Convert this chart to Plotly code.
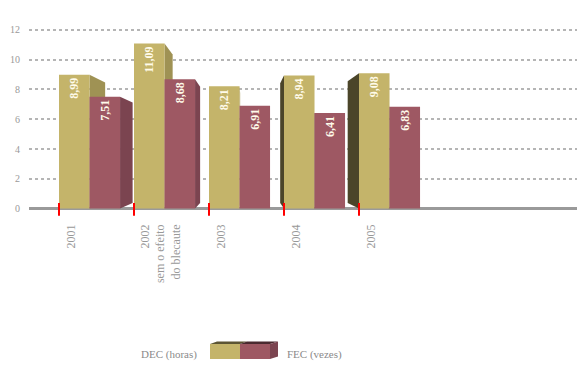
import plotly.graph_objects as go

# ---- data ----
categories = ["2001", "2002<br>sem o efeito<br>do blecaute", "2003", "2004", "2005"]
dec_values = [8.99, 11.09, 8.21, 8.94, 9.08]
fec_values = [7.51, 8.68, 6.91, 6.41, 6.83]
y_tick_values = [0, 2, 4, 6, 8, 10, 12]
legend_names = ["DEC (horas)", "FEC (vezes)"]

# ---- geometry / style ----
OFF = 8                      # default page body margin
W, H = 585 - OFF, 376 - OFF
ML, MT = 29 - OFF, 15 - OFF
PW, PHT = 556, 201           # plot area size in px
MR = W - ML - PW
MB = H - MT - PHT
PX_PER_CAT = 75.0
XR = [-0.4, -0.4 + PW / PX_PER_CAT]
YR = [-0.5, 13]
BW = 0.407          # bar width in category units
VPX, VPY, F = 2.49, 3.7, 0.10   # perspective vanishing point and depth fraction
label_offsets = [0.16, 0.35, 0.16, 0.16, 0.16]

DEC_FRONT, DEC_RIGHT, DEC_LEFT = "#C4B46A", "#9F9254", "#4B4529"
FEC_FRONT, FEC_RIGHT, FEC_LEFT = "#9E5863", "#7B4450", "#4A2A30"
GRAY = "#999999"
SERIF = "Liberation Serif"

n = len(categories)
dec_x = [i + BW / 2 for i in range(n)]
fec_x = [i + BW + BW / 2 for i in range(n)]


def fmt(v):
    return f"{v:.2f}".replace(".", ",")


fig = go.Figure()
label_font = dict(family=SERIF, size=12, color="#FFFBEA")
fig.add_trace(go.Bar(x=dec_x, y=dec_values, width=BW, name=legend_names[0],
                     marker=dict(color=DEC_FRONT, line=dict(width=0)),
                     text=[f"<b>{fmt(v)}</b>" for v in dec_values],
                     textposition="inside", insidetextanchor="end", textangle=-90,
                     textfont=label_font, hoverinfo="skip"))
fig.add_trace(go.Bar(x=fec_x, y=fec_values, width=BW, name=legend_names[1],
                     marker=dict(color=FEC_FRONT, line=dict(width=0)),
                     text=[f"<b>{fmt(v)}</b>" for v in fec_values],
                     textposition="inside", insidetextanchor="end", textangle=-90,
                     textfont=label_font, hoverinfo="skip"))

shapes = []


def side_face(xe, top, color):
    xb = xe + F * (VPX - xe)
    ytb = top + F * (VPY - top)
    ybb = F * VPY
    return dict(type="path", xref="x", yref="y", layer="between",
                path=f"M {xe},0 L {xe},{top} L {xb},{ytb} L {xb},{ybb} Z",
                fillcolor=color, line=dict(width=0))


for i in range(n):
    for left, val, rc, lc in ((i, dec_values[i], DEC_RIGHT, DEC_LEFT),
                              (i + BW, fec_values[i], FEC_RIGHT, FEC_LEFT)):
        right = left + BW
        if right < VPX:
            shapes.append(side_face(right, val, rc))
        if left > VPX:
            shapes.append(side_face(left, val, lc))

# red category ticks
for i in range(n):
    shapes.append(dict(type="line", xref="x", yref="y", layer="above",
                       x0=i, x1=i, y0=-0.48, y1=0.38,
                       line=dict(color="#FF0000", width=2)))


# legend swatch (page pixel -> paper)
def PX(px):
    return (px - OFF - ML) / PW


def PY(py):
    return (MT + PHT - (py - OFF)) / PHT


def poly(pts, color):
    p = "M " + " L ".join(f"{PX(a)},{PY(b)}" for a, b in pts) + " Z"
    return dict(type="path", xref="paper", yref="paper", path=p,
                fillcolor=color, line=dict(width=0), layer="above")


shapes.append(poly([(210, 344), (240, 344), (240, 359), (210, 359)], DEC_FRONT))
shapes.append(poly([(240, 344), (270, 344), (270, 359), (240, 359)], FEC_FRONT))
shapes.append(poly([(210, 344), (217, 341.5), (247, 341.5), (240, 344)], "#5C5533"))
shapes.append(poly([(240, 344), (247, 341.5), (278, 341.5), (270, 344)], FEC_LEFT))
shapes.append(poly([(270, 344), (278, 341.5), (278, 356.5), (270, 359)], FEC_RIGHT))

annotations = [
    dict(xref="paper", yref="paper", x=PX(199), y=PY(355), xanchor="right",
         yanchor="middle", text=legend_names[0], showarrow=False,
         font=dict(family=SERIF, size=11, color="#8A8A8A")),
    dict(xref="paper", yref="paper", x=PX(285), y=PY(355), xanchor="left",
         yanchor="middle", text=legend_names[1], showarrow=False,
         font=dict(family=SERIF, size=11, color="#8A8A8A")),
]

fig.update_layout(
    width=W, height=H,
    margin=dict(l=ML, r=MR, t=MT, b=MB, pad=0, autoexpand=False),
    paper_bgcolor="white", plot_bgcolor="white", showlegend=False,
    barmode="overlay", shapes=shapes, annotations=annotations,
    xaxis=dict(range=XR, showgrid=False, zeroline=False, showline=False,
               automargin=False,
               tickmode="array", tickvals=[i + o for i, o in zip(range(n), label_offsets)],
               ticktext=categories, tickangle=-90, ticks="", ticklabelstandoff=5,
               tickfont=dict(family=SERIF, size=12, color=GRAY)),
    yaxis=dict(range=YR, tickmode="array", tickvals=y_tick_values,
               automargin=False,
               showgrid=True, gridcolor="#B5B5B5", gridwidth=1.5, griddash="dot",
               zeroline=True, zerolinecolor="#9A9A9A", zerolinewidth=3,
               showline=False, ticks="", ticklabelstandoff=8,
               tickfont=dict(family=SERIF, size=10, color=GRAY)),
)

fig.write_html("out.html")
